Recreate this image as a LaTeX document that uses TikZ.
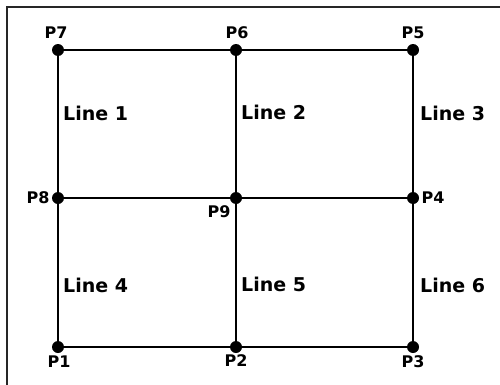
\documentclass[tikz,border=0pt]{standalone}
\usepackage{fontspec}
\setmainfont{DejaVu Sans}
\usetikzlibrary{positioning}

\begin{document}
\begin{tikzpicture}[x=1pt, y=1pt,
    dot/.style={circle, fill=black, minimum size=12pt, inner sep=0pt},
    dot_label/.style={font=\fontsize{16}{18}\selectfont\bfseries, inner sep=1pt},
    line_label/.style={font=\fontsize{19}{21}\selectfont\bfseries, anchor=west, inner sep=0pt},
    wire/.style={line width=2.8pt}
]
\useasboundingbox (0,0) rectangle (500,384);

% Frame
\draw[line width=2pt, black!85] (7,377) rectangle (503,-3);

% Points
\node[dot] (p7) at (58, 334) {};
\node[dot] (p6) at (236, 334) {};
\node[dot] (p5) at (413, 334) {};
\node[dot] (p8) at (58, 186) {};
\node[dot] (p9) at (236, 186) {};
\node[dot] (p4) at (413, 186) {};
\node[dot] (p1) at (58, 37) {};
\node[dot] (p2) at (236, 37) {};
\node[dot] (p3) at (413, 37) {};

% Point labels
\node[dot_label] (l7) at (56, 351) {P7};
\node[dot_label] (l6) at (237, 351) {P6};
\node[dot_label] (l5) at (413, 351) {P5};
\node[dot_label] (l8) at (38, 186) {P8};
\node[dot_label] (l9) at (219, 172) {P9};
\node[dot_label] (l4) at (433, 186) {P4};
\node[dot_label] (l1) at (59, 22) {P1};
\node[dot_label] (l2) at (236, 23) {P2};
\node[dot_label] (l3) at (413, 22) {P3};

% Grid
\draw[wire] (p7) -- (p6);
\draw[wire] (p6) -- (p5);
\draw[wire] (p8) -- (p9);
\draw[wire] (p9) -- (p4);
\draw[wire] (p1) -- (p2);
\draw[wire] (p2) -- (p3);
\draw[wire] (p7) -- (p8);
\draw[wire] (p8) -- (p1);
\draw[wire] (p6) -- (p9);
\draw[wire] (p9) -- (p2);
\draw[wire] (p5) -- (p4);
\draw[wire] (p4) -- (p3);

% Line labels
\node[line_label] (line1) at (63, 271) {Line 1};
\node[line_label] (line2) at (241, 272) {Line 2};
\node[line_label] (line3) at (420, 271) {Line 3};
\node[line_label] (line4) at (63, 99) {Line 4};
\node[line_label] (line5) at (241, 100) {Line 5};
\node[line_label] (line6) at (420, 99) {Line 6};

\end{tikzpicture}
\end{document}
